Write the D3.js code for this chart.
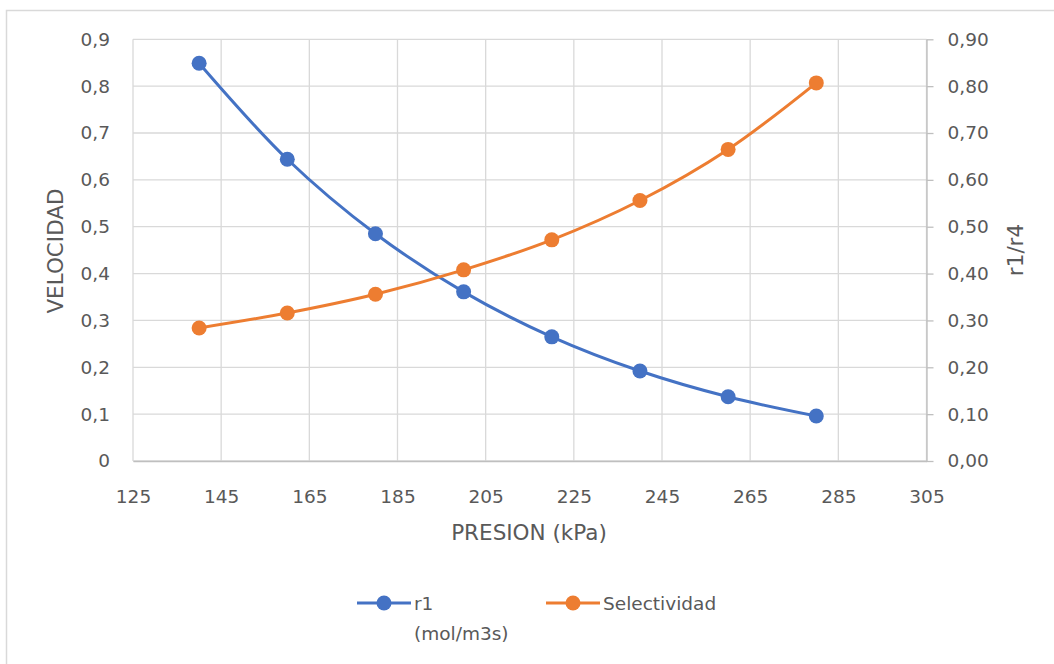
<!DOCTYPE html>
<html>
<head>
<meta charset="utf-8">
<script src="https://cdn.jsdelivr.net/npm/d3@7"></script>
<style>
  html, body { margin: 0; padding: 0; background: #fff; }
  svg { display: block; }
  text { font-family: "DejaVu Sans", sans-serif; fill: #595959; }
</style>
</head>
<body>
<svg id="chart" width="1054" height="664"></svg>
<script>
// Pressure (kPa) at each measurement
const presion = [140, 160, 180, 200, 220, 240, 260, 280];
// r1 reaction rate (mol/m3s), left axis
const r1 = [0.849, 0.644, 0.485, 0.361, 0.265, 0.192, 0.137, 0.096];
// Selectivity r1/r4, right axis
const selectividad = [0.284, 0.316, 0.356, 0.408, 0.472, 0.556, 0.665, 0.807];

const xTicks = [125, 145, 165, 185, 205, 225, 245, 265, 285, 305];
const yTicks = [0, 0.1, 0.2, 0.3, 0.4, 0.5, 0.6, 0.7, 0.8, 0.9];

const FONT = "'DejaVu Sans', sans-serif";
const TICK_SIZE = 18.5;
const TITLE_SIZE = 21.5;

const svg = d3.select("#chart");
const plot = { left: 133, right: 926.5, top: 39.3, bottom: 461 };

const x = d3.scaleLinear().domain([125, 305]).range([plot.left, plot.right]);
const yL = d3.scaleLinear().domain([0, 0.9]).range([plot.bottom, plot.top]);
const yR = d3.scaleLinear().domain([0, 0.9]).range([plot.bottom, plot.top]);

// outer chart frame
svg.append("rect")
  .attr("x", 6.5).attr("y", 10.5).attr("width", 1100).attr("height", 700)
  .attr("fill", "none").attr("stroke", "#d9d9d9").attr("stroke-width", 1.5);

// gridlines
const grid = svg.append("g");
grid.selectAll("line.h").data(yTicks).join("line")
  .attr("x1", plot.left).attr("x2", plot.right)
  .attr("y1", d => yL(d)).attr("y2", d => yL(d))
  .attr("stroke", "#d9d9d9").attr("stroke-width", 1.3);
grid.selectAll("line.v").data(xTicks).join("line")
  .attr("x1", d => x(d)).attr("x2", d => x(d))
  .attr("y1", plot.top).attr("y2", plot.bottom)
  .attr("stroke", "#d9d9d9").attr("stroke-width", 1.3);

function styleTicks(g) {
  g.selectAll("text").attr("font-size", TICK_SIZE).attr("fill", "#595959")
    .style("font-family", FONT);
}

// x axis
const xAxis = svg.append("g").attr("transform", `translate(0,${plot.bottom})`)
  .call(d3.axisBottom(x).tickValues(xTicks).tickFormat(d3.format("d")).tickSize(0).tickPadding(29));
xAxis.select(".domain").attr("stroke", "#bfbfbf").attr("stroke-width", 1.3);
styleTicks(xAxis);

// left axis
const fmtL = d => d === 0 ? "0" : d3.format(".1f")(d).replace(".", ",");
const yAxisL = svg.append("g").attr("transform", `translate(${plot.left},0)`)
  .call(d3.axisLeft(yL).tickValues(yTicks).tickFormat(fmtL).tickSize(0).tickPadding(23));
yAxisL.select(".domain").remove();
styleTicks(yAxisL);

// right axis
const fmtR = d => d3.format(".2f")(d).replace(".", ",");
const yAxisR = svg.append("g").attr("transform", `translate(${plot.right},0)`)
  .call(d3.axisRight(yR).tickValues(yTicks).tickFormat(fmtR).tickSize(7).tickSizeOuter(0).tickPadding(14));
yAxisR.select(".domain").attr("stroke", "#bfbfbf").attr("stroke-width", 1.3);
yAxisR.selectAll("line").attr("stroke", "#bfbfbf").attr("stroke-width", 1.3);
styleTicks(yAxisR);

// axis titles
svg.append("text").attr("transform", "translate(63,251) rotate(-90)")
  .attr("text-anchor", "middle").attr("font-size", TITLE_SIZE).text("VELOCIDAD");
svg.append("text").attr("transform", "translate(1023,250) rotate(-90)")
  .attr("text-anchor", "middle").attr("font-size", TITLE_SIZE).text("r1/r4");
svg.append("text").attr("x", 529).attr("y", 540)
  .attr("text-anchor", "middle").attr("font-size", TITLE_SIZE).text("PRESION (kPa)");

// series
const series = [
  { name: "r1", values: r1, y: yL, color: "#4472C4" },
  { name: "Selectividad", values: selectividad, y: yR, color: "#ED7D31" }
];

series.forEach(s => {
  const pts = presion.map((p, i) => [p, s.values[i]]);
  const line = d3.line().x(d => x(d[0])).y(d => s.y(d[1])).curve(d3.curveCatmullRom.alpha(0.5));
  svg.append("path").datum(pts).attr("d", line)
    .attr("fill", "none").attr("stroke", s.color).attr("stroke-width", 3);
  svg.append("g").selectAll("circle").data(pts).join("circle")
    .attr("cx", d => x(d[0])).attr("cy", d => s.y(d[1])).attr("r", 7.5)
    .attr("fill", s.color);
});

// legend
const legend = [
  { lines: ["r1", "(mol/m3s)"], color: "#4472C4", x: 357 },
  { lines: ["Selectividad"], color: "#ED7D31", x: 546 }
];
const ly = 603;
legend.forEach(l => {
  const g = svg.append("g");
  g.append("line").attr("x1", l.x).attr("x2", l.x + 54).attr("y1", ly).attr("y2", ly)
    .attr("stroke", l.color).attr("stroke-width", 3);
  g.append("circle").attr("cx", l.x + 27).attr("cy", ly).attr("r", 7.5).attr("fill", l.color);
  l.lines.forEach((t, i) => {
    g.append("text").attr("x", l.x + 57).attr("y", ly + 7 + i * 30)
      .attr("font-size", TICK_SIZE).text(t);
  });
});
</script>
</body>
</html>
